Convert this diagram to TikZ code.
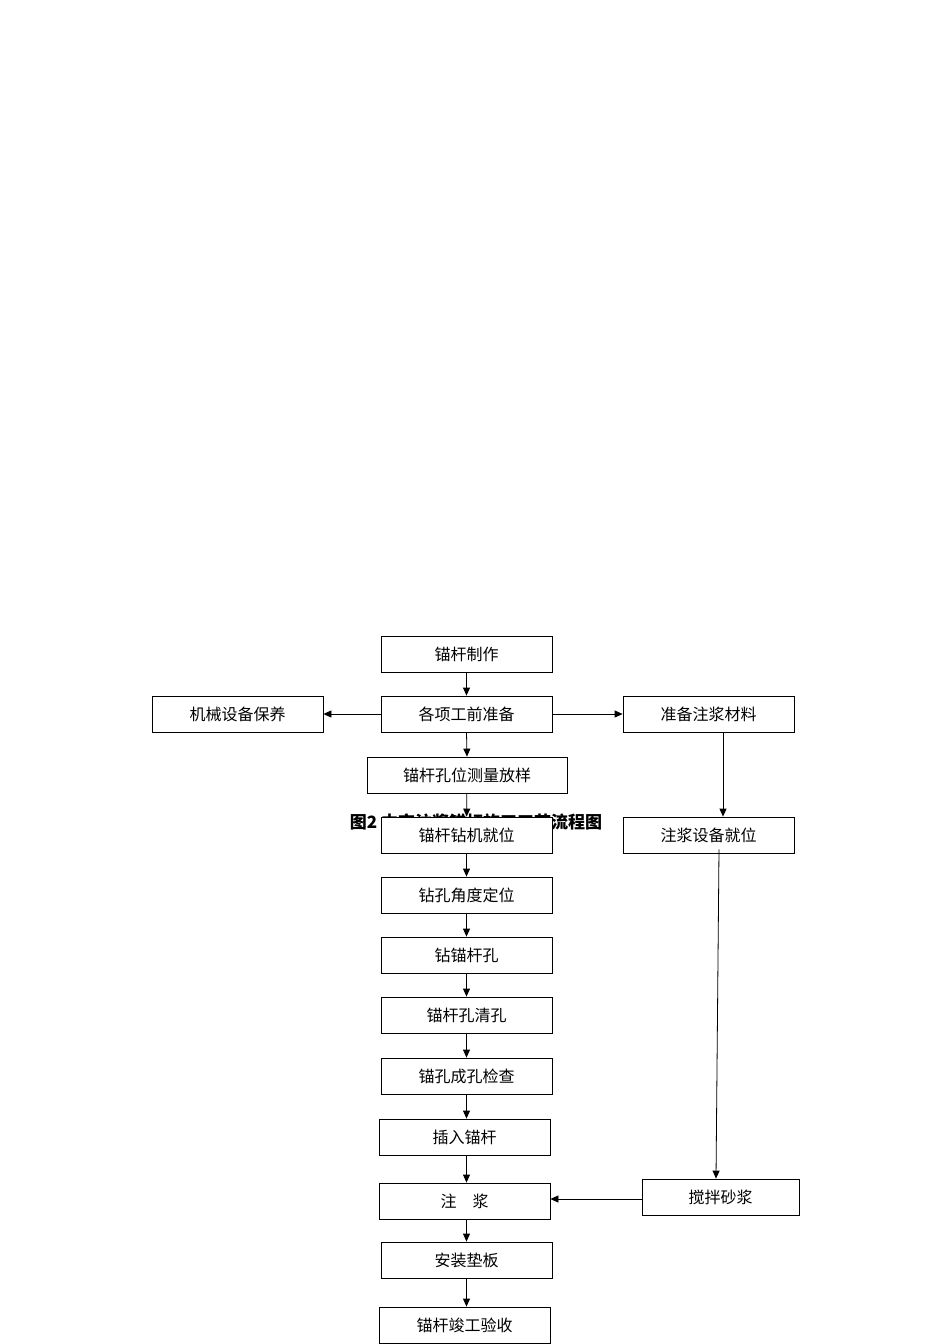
\documentclass[tikz,border=0pt]{standalone}
\usepackage{fontspec}
\newfontfamily\cjk{Noto Sans CJK SC}
\usetikzlibrary{arrows.meta}
\begin{document}
\begin{tikzpicture}[x=1pt,y=-1pt,
  box/.style={draw,fill=white,line width=0.8pt,minimum height=36pt,inner sep=0pt,font=\cjk\fontsize{16}{18}\selectfont},
  arr/.style={-{Triangle[length=8pt,width=7pt]},line width=0.8pt}]
\useasboundingbox (0,0) rectangle (950,1344);
\node[font=\cjk\bfseries\fontsize{17}{18}\selectfont] (cap) at (476,822) {图2\ 中空注浆锚杆施工工艺流程图};
\node[box,minimum width=171pt] (a) at (466.5,654) {锚杆制作};
\node[box,minimum width=171pt] (l) at (237.5,714) {机械设备保养};
\node[box,minimum width=171pt] (b) at (466.5,714) {各项工前准备};
\node[box,minimum width=171pt] (r) at (708.5,714) {准备注浆材料};
\node[box,minimum width=200pt] (c) at (467,775) {锚杆孔位测量放样};
\node[box,minimum width=171pt] (d) at (466.5,835) {锚杆钻机就位};
\node[box,minimum width=171pt] (r2) at (708.5,835) {注浆设备就位};
\node[box,minimum width=171pt] (e) at (466.5,895) {钻孔角度定位};
\node[box,minimum width=171pt] (f) at (466.5,955) {钻锚杆孔};
\node[box,minimum width=171pt] (g) at (466.5,1015) {锚杆孔清孔};
\node[box,minimum width=171pt] (h) at (466.5,1076) {锚孔成孔检查};
\node[box,minimum width=171pt] (i) at (464.5,1137) {插入锚杆};
\node[box,minimum width=171pt] (j) at (464.5,1201) {注\quad 浆};
\node[box,minimum width=157pt] (s) at (720.5,1197) {搅拌砂浆};
\node[box,minimum width=171pt] (k) at (466.5,1260) {安装垫板};
\node[box,minimum width=171pt] (m) at (464.5,1325) {锚杆竣工验收};
\draw[arr] (a) -- (b);
\draw[arr] (b) -- (l);
\draw[arr] (b) -- (r);
\draw[arr] (b.south) -- (c.north);
\draw[arr] (c) -- (d);
\draw[arr] (r.south-|723,0) -- (r2.north-|723,0);
\draw[arr] (d) -- (e);
\draw[arr] (e) -- (f);
\draw[arr] (f) -- (g);
\draw[arr] (g) -- (h);
\draw[arr] (h.south) -- (i.north-|h.south);
\draw[arr] (i.south-|h.south) -- (j.north-|h.south);
\draw[arr] (j.south-|h.south) -- (k.north);
\draw[arr] (k.south) -- (m.north-|k.south);
\draw[arr] ([yshift=4pt]r2.south-|719,0) -- (s.north-|716,0);
\draw[arr] (s.west|-0,1199) -- (j.east|-0,1199);
\end{tikzpicture}
\end{document}
